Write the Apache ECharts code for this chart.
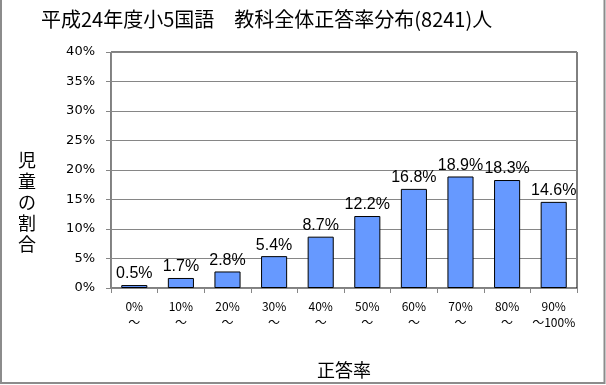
<!DOCTYPE html>
<html>
<head>
<meta charset="utf-8">
<script src="https://cdn.jsdelivr.net/npm/echarts@6/dist/echarts.min.js"></script>
<style>html,body{margin:0;padding:0;background:#fff}#c{width:606px;height:385px}</style>
</head>
<body>
<div id="c"></div>
<script>
const titleText = '平成24年度小5国語　教科全体正答率分布(8241)人';
const categories = ['0%\n～', '10%\n～', '20%\n～', '30%\n～', '40%\n～', '50%\n～', '60%\n～', '70%\n～', '80%\n～', '90%\n～100%'];
const values = [0.5, 1.7, 2.8, 5.4, 8.7, 12.2, 16.8, 18.9, 18.3, 14.6];
const yTicks = [0, 5, 10, 15, 20, 25, 30, 35, 40];
const yName = '児童の割合';
const xName = '正答率';

const chart = echarts.init(document.getElementById('c'), null, {renderer: 'canvas'});
chart.setOption({
  backgroundColor: '#fff',
  animation: false,
  title: {
    text: titleText, left: 36, top: 4,
    textStyle: {fontFamily: 'Noto Sans CJK JP', fontSize: 20, fontWeight: 'normal', color: '#000'}
  },
  grid: {left: 111, top: 52, right: 29, bottom: 97, show: true, borderColor: '#000', borderWidth: 1, backgroundColor: '#fff'},
  xAxis: {
    type: 'category', data: categories,
    name: xName, nameLocation: 'middle', nameGap: 73,
    nameTextStyle: {fontFamily: 'Noto Sans CJK JP', fontSize: 18, color: '#000'},
    axisLine: {lineStyle: {color: '#868686', width: 1}},
    axisTick: {show: true, length: 5, lineStyle: {color: '#868686'}},
    axisLabel: {fontFamily: 'Noto Sans CJK JP', fontSize: 12, color: '#000', lineHeight: 16, margin: 10, interval: 0}
  },
  yAxis: {
    type: 'value', min: yTicks[0], max: yTicks[yTicks.length - 1], interval: 5,
    axisLine: {show: true, lineStyle: {color: '#868686', width: 1}},
    axisTick: {show: true, length: 5, lineStyle: {color: '#868686'}},
    splitLine: {lineStyle: {color: '#868686', width: 1}},
    axisLabel: {fontFamily: 'DejaVu Sans', fontSize: 13, color: '#000', margin: 16, formatter: v => v + '%'}
  },
  graphic: [
    {type: 'text', left: 18, top: 150, style: {text: yName.split('').join('\n'), fontFamily: 'Noto Sans CJK JP', fontSize: 18, lineHeight: 21, fill: '#000', align: 'center'}},
    {type: 'rect', z: 100, shape: {x: 1, y: -10, width: 603.5, height: 393}, style: {fill: 'none', stroke: '#8c8c8c', lineWidth: 2}}
  ],
  series: [{
    type: 'bar', data: values, barCategoryGap: '44%',
    itemStyle: {color: '#6699ff', borderColor: '#000', borderWidth: 1},
    label: {show: true, position: 'top', distance: 3, formatter: p => p.value.toFixed(1) + '%', fontFamily: 'Liberation Sans', fontSize: 16, color: '#000'}
  }]
});
</script>
</body>
</html>
